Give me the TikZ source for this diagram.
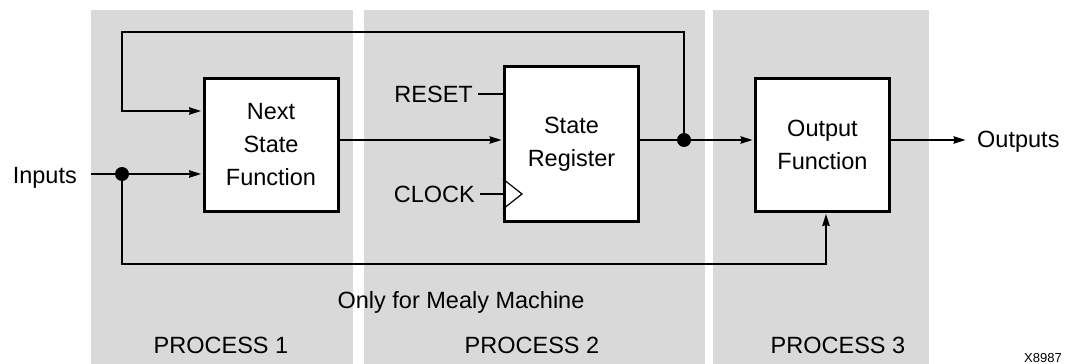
\documentclass[tikz,border=0pt]{standalone}
\usepackage{fontspec}
\setmainfont{Liberation Sans}
\usetikzlibrary{arrows.meta}
\definecolor{panel}{gray}{0.85}
\tikzset{
  lbl/.style={inner sep=0pt, font=\fontsize{23.5}{33}\selectfont},
  blk/.style={draw, line width=3pt, fill=white, inner sep=0pt, align=center,
              minimum width=134pt, font=\fontsize{23.5}{33}\selectfont},
  wire/.style={line width=1.4pt},
  arr/.style={wire, -{Stealth[length=12pt,width=7.5pt,inset=1pt]}, shorten >=1.5pt},
  dot/.style={circle, fill=black, inner sep=0pt, minimum size=14pt},
  panelbox/.style={fill=panel, draw=none}
}
\begin{document}
\begin{tikzpicture}[x=1pt,y=-1pt]
\useasboundingbox (0,0) rectangle (1074,364);
% panels
\fill[panel] (91,10) rectangle (353,364);
\fill[panel] (364,10) rectangle (705,364);
\fill[panel] (713,10) rectangle (929,364);
% blocks
\node[blk, minimum height=133pt] (nsf) at (271,144.5) {Next\\State\\Function};
\node[blk, minimum height=155pt] (sr) at (571.5,144) {State\\Register};
\node[blk, minimum height=133pt] (of) at (822.5,144.5) {Output\\Function};
% labels
\node[lbl, anchor=base east] (inp) at (77,183) {Inputs};
\node[lbl, anchor=base west] (outp) at (977,147) {Outputs};
\node[lbl, anchor=base east] (rst) at (473,102) {RESET};
\node[lbl, anchor=base east] (clk) at (475,202) {CLOCK};
\node[lbl, anchor=base] (mealy) at (461,308) {Only for Mealy Machine};
\node[lbl, anchor=base] (p1) at (221,353) {PROCESS 1};
\node[lbl, anchor=base] (p2) at (532,353) {PROCESS 2};
\node[lbl, anchor=base] (p3) at (838,353) {PROCESS 3};
\node[inner sep=0pt, anchor=base, font=\fontsize{13}{15}\selectfont] (id) at (1043,362) {X8987};
% junctions
\node[dot] (d1) at (122,174) {};
\node[dot] (d2) at (684,140) {};
\coordinate (tl) at (122,32);
\coordinate (fb) at (122,111);
\coordinate (bl) at (826,264);
\coordinate (ck) at (0,194);
\coordinate (rs) at (0,94);
% wires
\draw[wire] ([xshift=14pt]inp.east |- d1) -- (d1.center);
\draw[arr] (d1.center) -- (nsf.west |- d1);
\draw[arr] (d2.center) |- (tl) -- (fb) -- (nsf.west |- fb);
\draw[arr] (nsf.east |- d2) -- (sr.west |- d2);
\draw[wire] (sr.east |- d2) -- (d2.center);
\draw[arr] (d2.center) -- (of.west |- d2);
\draw[arr] (of.east |- d2) -- ([xshift=-10pt]outp.west |- d2);
\draw[arr] (d1.center) |- (bl) -- (bl |- of.south);
\draw[wire] ([xshift=5pt]rst.east |- rs) -- (sr.west |- rs);
\draw[wire] ([xshift=5pt]clk.east |- ck) -- (sr.west |- ck);
% clock triangle
\draw[line width=1.2pt, line join=miter] ([yshift=15pt]sr.west |- ck) -- ([xshift=19pt]sr.west |- ck) -- ([yshift=-15pt]sr.west |- ck);
\end{tikzpicture}
\end{document}
